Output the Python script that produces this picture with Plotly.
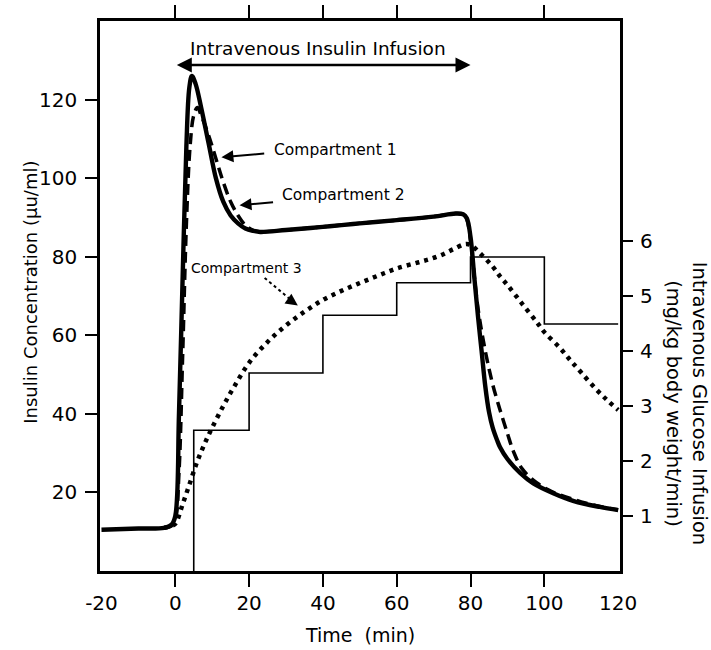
import plotly.graph_objects as go

# ---- data ----
# Compartment 1 (solid) insulin, µU/ml
c1_t = [-20, -10, -3, -1, 0, 1, 2, 3, 3.8, 4.5, 5.5, 7, 9, 11, 13, 15, 17, 19, 21, 23, 30, 40, 50, 60, 70, 76, 78, 79, 80, 81, 82, 83, 84, 85, 86, 87.2, 88, 90, 93.5, 97, 102.4, 108, 115, 120]
c1_v = [10.5, 10.8, 11.0, 11.8, 14, 40, 75, 108, 123, 126, 124, 118, 109, 100, 94, 90.5, 88.5, 87.2, 86.6, 86.3, 86.8, 87.6, 88.5, 89.3, 90.2, 91, 90.8, 89.8, 85, 75, 65, 56, 47, 40.5, 36.5, 33.3, 31.5, 28.5, 24.9, 22.3, 19.8, 17.8, 16.3, 15.5]
# Compartment 2 (dashed)
c2_t = [-3, -1, 0, 1, 2, 3, 4, 5, 6, 7, 9, 11, 13, 15, 17, 19, 21, 23, 30, 40, 50, 60, 70, 76, 78, 79, 80, 82, 84, 86, 87.2, 88, 90, 91.6, 94, 98, 102, 106, 110, 115, 120]
c2_v = [11, 11.5, 13, 25, 55, 88, 108, 116, 118, 116, 111, 105, 99, 94, 90.5, 88, 86.8, 86.4, 86.8, 87.6, 88.5, 89.3, 90.2, 91, 90.8, 89.5, 84, 67, 56, 47.5, 43.5, 41, 35, 30.5, 26, 22.4, 20.2, 18.8, 17.6, 16.4, 15.6]
# Compartment 3 (dotted)
c3_t = [-3, -1, 0, 2, 4, 6, 8, 10, 13, 16, 20, 25, 30, 35, 40, 45, 50, 55, 60, 66, 69, 72, 75.3, 78.5, 80, 83, 86, 88, 90, 94, 98, 100, 104, 107, 110, 114, 117, 120]
c3_v = [11, 11.5, 12, 17, 22.5, 28, 32.5, 36.5, 42, 47, 53, 58.3, 62.5, 66, 69, 71.3, 73.3, 75.2, 77, 78.6, 79.4, 80.4, 81.9, 83.2, 83, 80.5, 77.5, 75, 72.8, 68, 63.3, 60.8, 57, 53.7, 50.5, 46.3, 43.5, 41]
# Glucose infusion steps, mg/kg/min (right axis)
glu_t = [5, 5, 20, 40, 60, 80, 100, 120]
glu_v = [0, 2.56, 3.6, 4.65, 5.24, 5.71, 4.49, 4.49]

x_ticks = [-20, 0, 20, 40, 60, 80, 100, 120]
x_ticktext = ["-20", "0", "20", "40", "60", "80", "100", "120"]
x_inner_ticks = [0, 20, 40, 60, 80, 100]
y_ticks = [20, 40, 60, 80, 100, 120]
y2_ticks = [1, 2, 3, 4, 5, 6]

FONT = "DejaVu Sans"

fig = go.Figure()
fig.add_trace(go.Scatter(x=glu_t, y=glu_v, yaxis="y2", mode="lines", line=dict(shape="hv", color="black", width=1.6), showlegend=False))
fig.add_trace(go.Scatter(x=c3_t, y=c3_v, mode="lines", line=dict(color="black", width=4.5, dash="4px,5px", shape="spline"), showlegend=False))
fig.add_trace(go.Scatter(x=c2_t, y=c2_v, mode="lines", line=dict(color="black", width=3.5, dash="11px,6px", shape="spline"), showlegend=False))
fig.add_trace(go.Scatter(x=c1_t, y=c1_v, mode="lines", line=dict(color="black", width=4.4, shape="spline"), showlegend=False))
# invisible trace hosting the tick-only x axis
fig.add_trace(go.Scatter(x=[0], y=[0], xaxis="x2", mode="markers", marker=dict(opacity=0), showlegend=False, hoverinfo="skip"))

fig.update_layout(
    width=711, height=650,
    margin=dict(l=100, r=91, t=21, b=79),
    paper_bgcolor="white", plot_bgcolor="white",
    font=dict(family=FONT, color="black"),
    xaxis=dict(range=[-20.4, 120.5], tickvals=x_ticks, ticktext=x_ticktext, ticks="", showgrid=False, zeroline=False,
               showline=True, linecolor="black", linewidth=2.5, mirror=True,
               tickfont=dict(size=20, family=FONT), ticklabelstandoff=12),
    xaxis2=dict(overlaying="x", range=[-20.4, 120.5], side="bottom", tickvals=x_inner_ticks, ticks="outside",
                ticklen=15, tickwidth=2.2, tickcolor="black", showticklabels=False, showgrid=False,
                zeroline=False, showline=False, mirror="ticks"),
    yaxis=dict(range=[0, 140], tickvals=y_ticks, ticks="outside", ticklen=12, tickwidth=2.2, tickcolor="black",
               showgrid=False, zeroline=False, showline=True, linecolor="black", linewidth=2.5, mirror=True,
               tickfont=dict(size=20, family=FONT), ticklabelstandoff=4),
    yaxis2=dict(range=[0, 10], overlaying="y", side="right", tickvals=y2_ticks, ticks="outside", ticklen=12,
                tickwidth=2.2, tickcolor="black", showgrid=False, zeroline=False, showline=False,
                tickfont=dict(size=20, family=FONT), ticklabelstandoff=3),
)

ann = []
ann.append(dict(x=80, y=128.8, ax=0, ay=128.8, xref="x", yref="y", axref="x", ayref="y", text="",
                showarrow=True, arrowhead=2, arrowsize=1.2, arrowwidth=2.5, arrowside="end+start", arrowcolor="black"))
ann.append(dict(x=38.6, y=133.1, xref="x", yref="y", text="Intravenous Insulin Infusion", showarrow=False,
                xanchor="center", yanchor="middle", font=dict(size=18.5, family=FONT)))
ann.append(dict(x=12.5, y=105.3, ax=24.5, ay=106.3, xref="x", yref="y", axref="x", ayref="y", text="",
                showarrow=True, arrowhead=2, arrowsize=1.2, arrowwidth=2, arrowcolor="black"))
ann.append(dict(x=26.1, y=107.1, xref="x", yref="y", text="Compartment 1", xanchor="left", yanchor="middle",
                showarrow=False, font=dict(size=15.5, family=FONT)))
ann.append(dict(x=17.4, y=93.1, ax=26.9, ay=93.9, xref="x", yref="y", axref="x", ayref="y", text="",
                showarrow=True, arrowhead=2, arrowsize=1.2, arrowwidth=2, arrowcolor="black"))
ann.append(dict(x=28.3, y=95.7, xref="x", yref="y", text="Compartment 2", xanchor="left", yanchor="middle",
                showarrow=False, font=dict(size=15.5, family=FONT)))
# dashed pointer for compartment 3
ann.append(dict(x=33.2, y=67.6, ax=31.2, ay=68.9, xref="x", yref="y", axref="x", ayref="y", text="",
                showarrow=True, arrowhead=2, arrowsize=1.2, arrowwidth=2, arrowcolor="black"))
ann.append(dict(x=19.3, y=77.1, xref="x", yref="y", text="Compartment 3", xanchor="center", yanchor="middle",
                showarrow=False, font=dict(size=14, family=FONT)))
ann.append(dict(x=0.5, y=-0.1164, xref="paper", yref="paper", text="Time  (min)", showarrow=False,
                xanchor="center", yanchor="middle", font=dict(size=19, family=FONT)))
ann.append(dict(x=-0.1335, y=0.507, xref="paper", yref="paper", text="Insulin Concentration (µu/ml)", showarrow=False,
                xanchor="center", yanchor="middle", textangle=-90, font=dict(size=18, family=FONT)))
ann.append(dict(x=1.1288, y=0.304, xref="paper", yref="paper",
                text="Intravenous Glucose Infusion<br>(mg/kg body weight/min)", showarrow=False,
                xanchor="center", yanchor="middle", textangle=90, font=dict(size=19.5, family=FONT)))
fig.update_layout(annotations=ann)
fig.add_shape(type="line", xref="x", yref="y", x0=24.2, y0=74.6, x1=31.6, y1=68.8,
              line=dict(color="black", width=2, dash="3px,3px"))

fig.write_html("out.html", config={"displayModeBar": False},
               post_script="document.body.style.margin='0';document.body.style.overflow='hidden';")
